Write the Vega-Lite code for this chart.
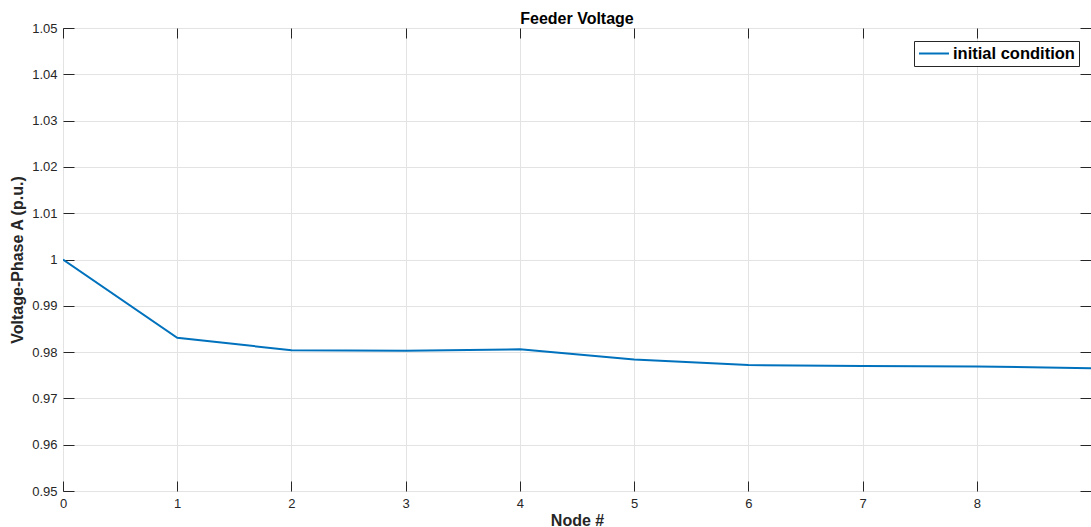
{
  "$schema": "https://vega.github.io/schema/vega-lite/v6.json",
  "width": 1028,
  "height": 463,
  "autosize": "none",
  "padding": {"left": 63, "top": 28, "right": 0, "bottom": 36},
  "background": "white",
  "title": {"text": "Feeder Voltage", "font": "Liberation Sans", "fontSize": 16, "fontWeight": "bold", "color": "black", "anchor": "middle", "offset": -5},
  "data": {"values": [
    {"node": 0, "v": 1.0, "series": "initial condition"},
    {"node": 1, "v": 0.9831, "series": "initial condition"},
    {"node": 2, "v": 0.9804, "series": "initial condition"},
    {"node": 3, "v": 0.9803, "series": "initial condition"},
    {"node": 4, "v": 0.9806, "series": "initial condition"},
    {"node": 5, "v": 0.9784, "series": "initial condition"},
    {"node": 6, "v": 0.9772, "series": "initial condition"},
    {"node": 7, "v": 0.9770, "series": "initial condition"},
    {"node": 8, "v": 0.9769, "series": "initial condition"},
    {"node": 9, "v": 0.9765, "series": "initial condition"}
  ]},
  "config": {
    "view": {"stroke": "#262626", "strokeWidth": 1},
    "axis": {
      "domain": false,
      "grid": true,
      "gridColor": "#e3e3e3",
      "gridWidth": 1,
      "tickColor": "#262626",
      "tickWidth": 1,
      "labelColor": "#262626",
      "labelFont": "Liberation Sans",
      "labelFontSize": 13,
      "titleFont": "Liberation Sans",
      "titleFontSize": 16,
      "titleFontWeight": "bold",
      "titleColor": "#262626"
    },
    "legend": {
      "orient": "none",
      "legendX": 851,
      "legendY": 13,
      "strokeColor": "#262626",
      "fillColor": "white",
      "padding": 4,
      "symbolType": "M-1,0H3",
      "symbolSize": 225,
      "symbolStrokeWidth": 2,
      "labelOffset": 18,
      "labelFont": "Liberation Sans",
      "labelFontSize": 16.5,
      "labelFontWeight": "bold",
      "labelColor": "black"
    }
  },
  "layer": [
    {
      "mark": {"type": "line", "strokeWidth": 2, "clip": true},
      "encoding": {
        "x": {"field": "node", "type": "quantitative", "scale": {"domain": [0, 9], "nice": false, "zero": false},
          "axis": {"title": "Node #", "values": [0, 1, 2, 3, 4, 5, 6, 7, 8], "tickSize": -10, "labelPadding": 16, "titlePadding": 2, "labelFlush": false}},
        "y": {"field": "v", "type": "quantitative", "scale": {"domain": [0.95, 1.05], "nice": false, "zero": false},
          "axis": {"title": "Voltage-Phase A (p.u.)", "values": [0.95, 0.96, 0.97, 0.98, 0.99, 1.0, 1.01, 1.02, 1.03, 1.04, 1.05], "format": "~g", "tickSize": -11, "labelPadding": 17, "titlePadding": 6, "labelFlush": false}},
        "color": {"field": "series", "type": "nominal", "scale": {"range": ["#0072BD"]}, "legend": {"title": null}}
      }
    },
    {
      "mark": {"type": "line", "opacity": 0},
      "encoding": {
        "x": {"field": "node", "type": "quantitative", "scale": {"domain": [0, 9], "nice": false, "zero": false},
          "axis": {"orient": "top", "title": null, "labels": false, "grid": false, "values": [0, 1, 2, 3, 4, 5, 6, 7, 8], "tickSize": -10}},
        "y": {"field": "v", "type": "quantitative", "scale": {"domain": [0.95, 1.05], "nice": false, "zero": false},
          "axis": {"orient": "right", "title": null, "labels": false, "grid": false, "values": [0.95, 0.96, 0.97, 0.98, 0.99, 1.0, 1.01, 1.02, 1.03, 1.04, 1.05], "tickSize": -11}}
      }
    }
  ],
  "resolve": {"scale": {"x": "independent", "y": "independent"}}
}
